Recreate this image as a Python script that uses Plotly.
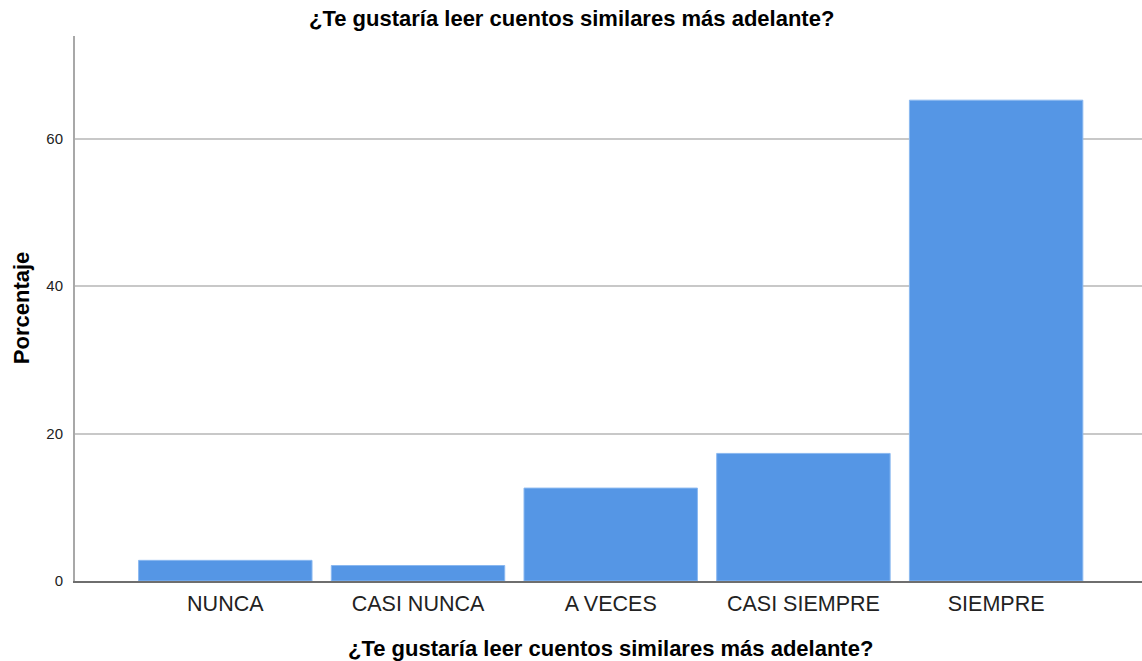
import plotly.graph_objects as go

categories = ["NUNCA", "CASI NUNCA", "A VECES", "CASI SIEMPRE", "SIEMPRE"]
percentages = [2.8, 2.1, 12.6, 17.3, 65.2]
y_ticks = [0, 20, 40, 60]
title_text = "¿Te gustaría leer cuentos similares más adelante?"
y_title = "Porcentaje"

W, H = 1142, 661
plot_left, plot_top, plot_bottom = 75, 36, 580.7
ml, mt, mr = plot_left, plot_top, 0
mb = H - plot_bottom
pw, ph = W - ml - mr, H - mt - mb

fig = go.Figure(go.Bar(
    x=categories, y=percentages,
    marker=dict(color="#5596e5", line=dict(color="#8ab8f0", width=1)),
    hoverinfo="skip",
))

font = "Liberation Sans, Arial, sans-serif"
fig.update_layout(
    width=W, height=H,
    margin=dict(l=ml, r=mr, t=mt, b=mb, pad=0),
    paper_bgcolor="white", plot_bgcolor="white",
    bargap=0.1, showlegend=False,
    font=dict(family=font, color="#222"),
    xaxis=dict(
        type="category", range=[-0.78, 4.757],
        showline=True, linecolor="#6e6e6e", linewidth=2,
        showgrid=False, ticks="", ticklabelstandoff=2,
        tickfont=dict(size=21.5, color="#222"),
    ),
    yaxis=dict(
        range=[0, 73.9], tickvals=y_ticks,
        showline=True, linecolor="#a8a8a8", linewidth=2,
        showgrid=True, gridcolor="#c8c8c8", gridwidth=1.5,
        zeroline=False, ticks="", ticklabelstandoff=7,
        tickfont=dict(size=15, color="#222"),
    ),
    annotations=[
        dict(text="<b>" + title_text + "</b>", xref="paper", yref="paper",
             x=(571 - ml) / pw, y=1 + (mt - 19) / ph,
             xanchor="center", yanchor="middle",
             showarrow=False, font=dict(size=22, color="#000")),
        dict(text="<b>" + title_text + "</b>", xref="paper", yref="paper",
             x=(610 - ml) / pw, y=-(648 - plot_bottom) / ph,
             xanchor="center", yanchor="middle",
             showarrow=False, font=dict(size=22, color="#000")),
        dict(text="<b>" + y_title + "</b>", xref="paper", yref="paper",
             x=-(ml - 21) / pw, y=1 - (308 - mt) / ph,
             xanchor="center", yanchor="middle", textangle=-90,
             showarrow=False, font=dict(size=22, color="#000")),
    ],
)

fig.write_html("out.html", config={"displayModeBar": False},
               post_script="document.body.style.margin='0px';")
